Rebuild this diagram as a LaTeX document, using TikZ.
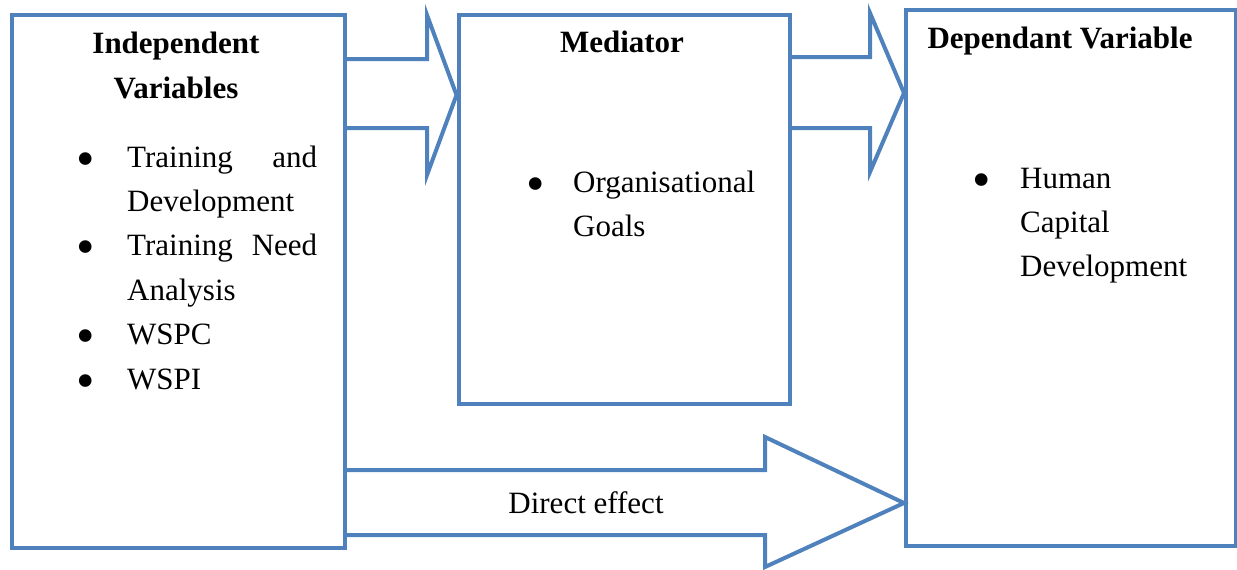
\documentclass[tikz,border=0pt]{standalone}
\usepackage{fontspec}
\setmainfont{Liberation Serif}
\usepackage{xcolor}
\usepackage{tikz}
\usetikzlibrary{calc}
\definecolor{boxline}{RGB}{79,129,189}
\newcommand{\diagramfont}{\fontsize{31}{44.4}\selectfont}
\newcommand{\bitem}[2]{\noindent\hangindent=#1\hangafter=1%
  \hbox to #1{\smash{\raisebox{-9pt}{\scalebox{1.7}{\textbullet}}}\hfil}#2\par}
\hyphenpenalty=10000
\tolerance=10000
\tikzset{
  varbox/.style={draw=boxline, line width=4pt, inner sep=0pt, anchor=north west},
  heading/.style={font=\diagramfont\bfseries, align=center, inner sep=0pt, anchor=base},
  itemlist/.style={font=\diagramfont, align=left, inner sep=0pt, anchor=base west},
  flowlabel/.style={font=\diagramfont, inner sep=0pt, anchor=base},
  blockarrow/.style={draw=boxline, line width=4pt}
}

\begin{document}
\begin{tikzpicture}[x=1pt, y=-1pt]
  \useasboundingbox (0,0) rectangle (1237,570);
  % the three boxes
  \node[varbox, minimum width=333pt, minimum height=533.5pt] (ind) at (9.5,12.5) {};
  \node[varbox, minimum width=331.5pt, minimum height=389.5pt] (med) at (456.5,12.5) {};
  \node[varbox, minimum width=330pt, minimum height=536pt] (dep) at (904,8) {};
  % headings (base is the last line)
  \node[heading] (indhead) at (176,98) {Independent\\Variables};
  \node[heading] (medhead) at (622,52) {Mediator};
  \node[heading] (dephead) at (1060,48) {Dependant Variable};
  % variables
  \node[itemlist, align=justify, text width=241pt] (indlist) at (76,167)
    {\bitem{51pt}{Training and Development}\bitem{51pt}{Training Need Analysis}%
     \bitem{51pt}{WSPC}\bitem{51pt}{WSPI}};
  \node[itemlist, text width=250pt] (medlist) at (526,192)
    {\bitem{47pt}{Organisational Goals}};
  \node[itemlist, text width=228pt] (deplist) at (972,188)
    {\bitem{48pt}{Human Capital Development}};
  % block arrows
  \draw[blockarrow] (ind.east |- 0,59) -- (427,59) -- (427,15) -- (med.west |- 0,95)
    -- (427,175) -- (427,128) -- (ind.east |- 0,128);
  \draw[blockarrow] (med.east |- 0,57) -- (870,57) -- (870,13) -- (dep.west |- 0,93)
    -- (870,172) -- (870,128) -- (med.east |- 0,128);
  \draw[blockarrow] (ind.east |- 0,470) -- (765,470) -- (765,437) -- (dep.west |- 0,503)
    -- (765,567) -- (765,535) -- (ind.east |- 0,535);
  \node[flowlabel] (direct) at (586,513) {Direct effect};
\end{tikzpicture}
\end{document}
